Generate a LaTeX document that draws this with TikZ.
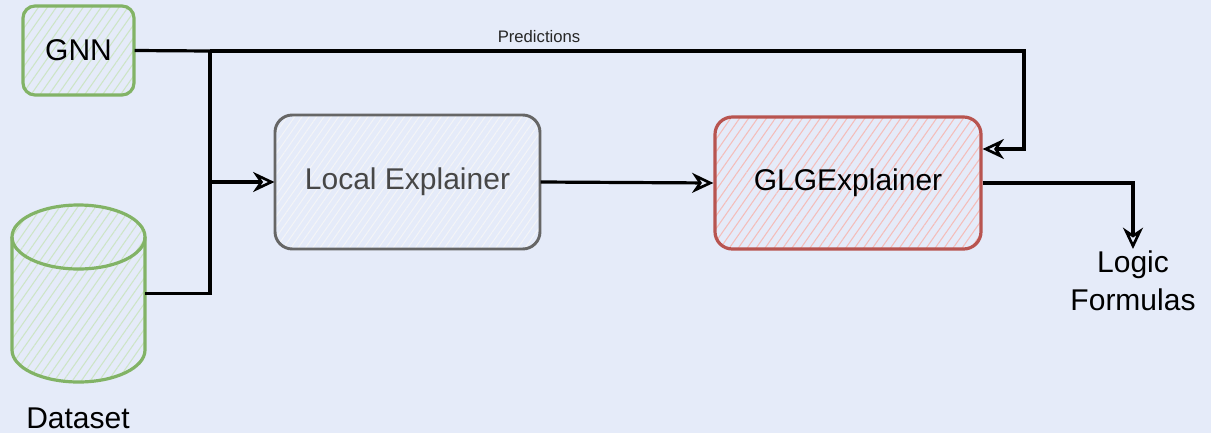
\documentclass[tikz,border=0pt]{standalone}
\usepackage{fontspec}
\setmainfont{Liberation Sans}
\usetikzlibrary{arrows.meta,patterns.meta,calc}
\definecolor{bgc}{HTML}{E5EBF9}
\definecolor{gline}{HTML}{82B366}
\definecolor{ghatch}{HTML}{CDE5C6}
\definecolor{rline}{HTML}{B85450}
\definecolor{rhatch}{HTML}{F4BDBA}
\definecolor{kline}{HTML}{666666}
\definecolor{khatch}{HTML}{F3F4F7}
\def\u{0.75pt}
\tikzset{
  conn/.style={line width=2.4pt, draw=black},
  tip/.style={-{Stealth[open, length=16pt, width=15pt, inset=5pt, line width=2pt]}},
  hatchg/.style={pattern={Lines[angle=55,distance=5.5pt,line width=0.8pt]}, pattern color=ghatch},
  hatchr/.style={pattern={Lines[angle=55,distance=5.5pt,line width=0.8pt]}, pattern color=rhatch},
  hatchk/.style={pattern={Lines[angle=55,distance=4.5pt,line width=0.8pt]}, pattern color=khatch},
  bigtxt/.style={font=\fontsize{22.5}{28.5}\selectfont},
  gnnbox/.style={draw=gline, line width=2.4pt, rounded corners=9pt, hatchg, bigtxt, text=black},
  localbox/.style={draw=kline, line width=2.2pt, rounded corners=13pt, hatchk, bigtxt, text=black!72},
  glgbox/.style={draw=rline, line width=2.4pt, rounded corners=13pt, hatchr, bigtxt, text=black},
}
\begin{document}
\begin{tikzpicture}[x=0.75pt,y=-0.75pt]
\fill[bgc] (0,0) rectangle (1211,433);
\useasboundingbox (0,0) rectangle (1211,433);

% nodes
\node[gnnbox, minimum width=111*\u, minimum height=89*\u] (gnn) at (78.5,50.5) {GNN};
\node[localbox, minimum width=265*\u, minimum height=134*\u] (local) at (407.5,182) {Local Explainer};
\node[glgbox, minimum width=266*\u, minimum height=132*\u] (glg) at (848,183) {GLGExplainer};

% dataset cylinder
\path[hatchg] (12,237) -- (12,350)
  arc[start angle=180, end angle=360, x radius=66.5*\u, y radius=32*\u]
  -- (145,237)
  arc[start angle=0, end angle=180, x radius=66.5*\u, y radius=32*\u] -- cycle;
\draw[gline, line width=2.4pt] (12,237) -- (12,350)
  arc[start angle=180, end angle=360, x radius=66.5*\u, y radius=32*\u]
  -- (145,237)
  arc[start angle=0, end angle=180, x radius=66.5*\u, y radius=32*\u];
\draw[gline, line width=2.4pt] (12,237)
  arc[start angle=180, end angle=360, x radius=66.5*\u, y radius=32*\u];
\node[minimum width=133*\u, minimum height=177*\u, inner sep=0pt] (dataset) at (78.5,293.5) {};
\node[bigtxt, anchor=base] (dslabel) at (78,428) {Dataset};

\node[bigtxt, align=center, anchor=north, inner sep=1pt] (logic) at (1133,249) {Logic\\Formulas};
\node[font=\fontsize{12.5}{14}\selectfont, text=black!85] (pred) at (539,37) {Predictions};

% junction coordinates
\coordinate (j) at (210,51);
\coordinate (pr) at (1024,51);

% connectors
\draw[conn] (gnn.east) -- (j);
\draw[conn, tip] (j) -- (pr) |- ([yshift=34*\u]glg.east);
\draw[conn] (dataset.east) -| (j);
\draw[conn, tip] (local.west -| j) -- (local.west);
\draw[conn, tip] (local.east) -- (glg.west);
\draw[conn, tip] (glg.east) -| (logic.north);
\end{tikzpicture}
\end{document}
